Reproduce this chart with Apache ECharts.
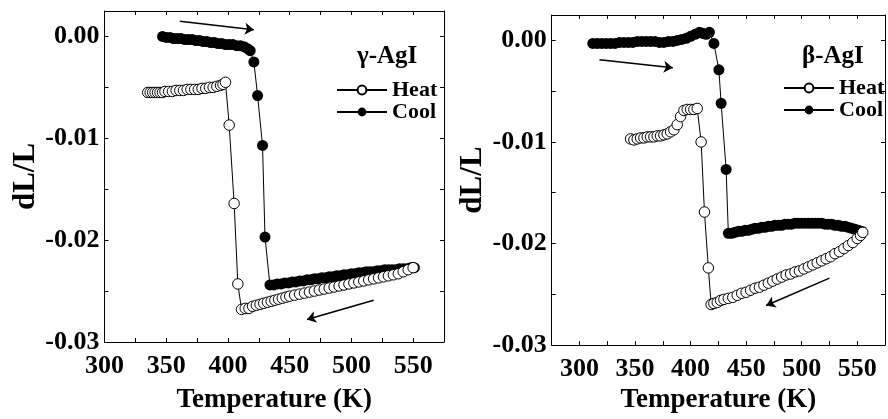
<!DOCTYPE html>
<html>
<head>
<meta charset="utf-8">
<script src="https://cdn.jsdelivr.net/npm/echarts@6.0.0/dist/echarts.min.js"></script>
<style>
  html, body { margin: 0; padding: 0; background: #fff; }
  #chart { width: 888px; height: 419px; }
</style>
</head>
<body>
<div id="chart"></div>
<script>
// gamma-AgI, heating (open circles)
const gHeatT = [335,337,339,341,343,345,347,349,352,355,358,361,364,367,370,373,376,379,382,385,388,391,394,396,398,
  401,405,408,
  411,414,417,420,423,426,429,432,435,438,441,444,447,450,
  454,458,462,466,470,474,478,482,486,490,494,498,502,506,510,514,518,522,526,530,534,538,542,546,550];
const gHeatV = [-0.0055,-0.0055,-0.0055,-0.0055,-0.0055,-0.0055,-0.0055,-0.0054,-0.0054,-0.0054,-0.0053,-0.0053,-0.0053,-0.0052,-0.0052,-0.0052,-0.0052,-0.0051,-0.0051,-0.0050,-0.0050,-0.0049,-0.0048,-0.0047,-0.0045,
  -0.0087,-0.0164,-0.0243,
  -0.0268,-0.0267,-0.0267,-0.0265,-0.0264,-0.0263,-0.0262,-0.0261,-0.0260,-0.0259,-0.0258,-0.0257,-0.0256,-0.0255,
  -0.0254,-0.0253,-0.0252,-0.0251,-0.0250,-0.0249,-0.0248,-0.0247,-0.0246,-0.0245,-0.0244,-0.0243,-0.0242,-0.0241,-0.0240,-0.0239,-0.0238,-0.0237,-0.0236,-0.0235,-0.0234,-0.0233,-0.0231,-0.0229,-0.0227];

// gamma-AgI, cooling (filled circles)
const gCoolT = [347,350,353,356,359,362,365,368,371,374,377,380,383,386,389,392,395,398,401,404,407,410,413,416,418,
  421,424,428,430,
  434,437,440,443,446,449,452,455,458,461,464,467,470,473,476,479,482,485,488,491,
  494,497,500,503,506,509,512,515,518,521,524,527,530,533,536,539,542,545,548,551];
const gCoolV = [0.0000,-0.0001,-0.0001,-0.0002,-0.0002,-0.0002,-0.0003,-0.0003,-0.0003,-0.0004,-0.0004,-0.0005,-0.0005,-0.0006,-0.0006,-0.0007,-0.0007,-0.0008,-0.0008,-0.0008,-0.0009,-0.0009,-0.0010,-0.0012,-0.0014,
  -0.0025,-0.0058,-0.0107,-0.0197,
  -0.0244,-0.0244,-0.0243,-0.0243,-0.0242,-0.0242,-0.0241,-0.0241,-0.0240,-0.0240,-0.0239,-0.0239,-0.0238,-0.0238,-0.0237,-0.0237,-0.0236,-0.0236,-0.0235,-0.0235,
  -0.0234,-0.0234,-0.0233,-0.0233,-0.0232,-0.0232,-0.0231,-0.0231,-0.0231,-0.0230,-0.0230,-0.0229,-0.0229,-0.0229,-0.0229,-0.0228,-0.0228,-0.0228,-0.0227,-0.0227];

// beta-AgI, heating
const bHeatT = [346,349,352,355,358,361,364,367,370,373,376,379,382,385,388,391,394,397,400,403,406,
  409.5,412.5,416,418.5,
  421,424,427,430,434,438,442,446,450,454,458,462,466,470,474,478,482,486,490,494,498,
  502,506,510,514,518,522,526,530,534,538,542,546,550,553,555];
const bHeatV = [-0.0097,-0.0098,-0.0097,-0.0096,-0.0096,-0.0095,-0.0095,-0.0095,-0.0094,-0.0094,-0.0093,-0.0092,-0.0090,-0.0088,-0.0083,-0.0075,-0.0069,-0.0068,-0.0068,-0.0068,-0.0067,
  -0.0100,-0.0169,-0.0224,-0.0260,
  -0.0259,-0.0258,-0.0256,-0.0255,-0.0254,-0.0253,-0.0251,-0.0249,-0.0248,-0.0246,-0.0244,-0.0243,-0.0241,-0.0239,-0.0237,-0.0235,-0.0233,-0.0231,-0.0230,-0.0228,-0.0227,
  -0.0225,-0.0223,-0.0221,-0.0219,-0.0217,-0.0215,-0.0213,-0.0210,-0.0208,-0.0205,-0.0202,-0.0199,-0.0195,-0.0192,-0.0189];

// beta-AgI, cooling
const bCoolT = [312,316,320,324,328,332,336,340,344,348,352,356,360,364,368,372,376,380,384,388,392,396,400,404,408,411,414,417,
  421,425.5,427.5,432,
  434,437,440,443,446,449,452,455,458,461,464,467,470,473,476,479,482,485,488,491,
  494,497,500,503,506,509,512,515,518,521,524,527,530,533,536,539,542,545,548,551,554];
const bCoolV = [-0.0003,-0.0003,-0.0003,-0.0003,-0.0003,-0.0003,-0.0002,-0.0002,-0.0002,-0.0002,-0.0001,-0.0001,-0.0001,-0.0001,-0.0001,-0.0002,-0.0002,-0.0001,-0.0001,0.0000,0.0001,0.0002,0.0004,0.0006,0.0008,0.0007,0.0006,0.0008,
  -0.0003,-0.0029,-0.0062,-0.0127,
  -0.0190,-0.0190,-0.0189,-0.0188,-0.0188,-0.0187,-0.0187,-0.0186,-0.0185,-0.0185,-0.0184,-0.0184,-0.0183,-0.0183,-0.0182,-0.0182,-0.0182,-0.0181,-0.0181,-0.0181,
  -0.0180,-0.0180,-0.0180,-0.0180,-0.0180,-0.0180,-0.0180,-0.0180,-0.0180,-0.0181,-0.0181,-0.0181,-0.0182,-0.0182,-0.0183,-0.0183,-0.0184,-0.0185,-0.0186,-0.0187,-0.0188];

// direction arrows [start T, start dL/L, end T, end dL/L]
const gArrows = [[361, 0.0015, 421, 0.00065], [518, -0.0259, 464, -0.0278]];
const bArrows = [[318, -0.0019, 384, -0.0027], [525, -0.0234, 468, -0.0261]];

const seriesNames = ['Heat', 'Cool'];
const panelTitles = ['γ-AgI', 'β-AgI'];

const FONT = "'Liberation Serif', 'Times New Roman', serif";

function zip(t, v) {
  if (t.length !== v.length) console.warn('length mismatch', t.length, v.length);
  return t.map((x, i) => [x, v[i]]);
}

function arrowLines(list) {
  return list.map(a => [{ coord: [a[0], a[1]] }, { coord: [a[2], a[3]] }]);
}

function xLabel(v) {
  return v % 50 === 0 ? String(v) : '';
}
function yLabel(v) {
  const r = Math.round(v * 100);
  if (Math.abs(v * 100 - r) > 1e-6) return '';
  return (r / 100).toFixed(2);
}

function xAxisOf(grid, min, pos, gap) {
  const bottom = pos === 'bottom';
  return {
    gridIndex: grid, type: 'value', position: pos,
    min: min, max: 575, interval: 25,
    axisLine: { show: true, onZero: false, lineStyle: { color: '#000', width: 1 } },
    axisTick: { show: true, inside: true, length: 4, lineStyle: { color: '#000', width: 1 } },
    splitLine: { show: false },
    axisLabel: {
      show: bottom, formatter: xLabel, margin: 11,
      fontFamily: FONT, fontWeight: 'bold', fontSize: 26, color: '#000'
    },
    name: bottom ? 'Temperature (K)' : '',
    nameLocation: 'middle', nameGap: gap,
    nameTextStyle: { fontFamily: FONT, fontWeight: 'bold', fontSize: 27, color: '#000' }
  };
}

function yAxisOf(grid, pos) {
  const left = pos === 'left';
  return {
    gridIndex: grid, type: 'value', position: pos,
    min: -0.03, max: 0.0025, interval: 0.005,
    axisLine: { show: true, onZero: false, lineStyle: { color: '#000', width: 1 } },
    axisTick: { show: true, inside: true, length: 4, lineStyle: { color: '#000', width: 1 } },
    splitLine: { show: false },
    axisLabel: {
      show: left, formatter: yLabel, margin: 5,
      fontFamily: FONT, fontWeight: 'bold', fontSize: 26, color: '#000'
    },
    name: left ? 'dL/L' : '',
    nameLocation: 'middle', nameGap: 63,
    nameTextStyle: { fontFamily: FONT, fontWeight: 'bold', fontSize: 31, color: '#000' }
  };
}

function heatSeries(xi, data, arrows) {
  return {
    name: seriesNames[0], type: 'line', xAxisIndex: xi, yAxisIndex: xi,
    data: data, symbol: 'circle', symbolSize: 10.5, showSymbol: true,
    lineStyle: { color: '#000', width: 1 },
    itemStyle: { color: '#fff', borderColor: '#000', borderWidth: 1 },
    z: 3,
    markLine: {
      silent: true, symbol: ['none', 'arrow'], symbolSize: 9,
      lineStyle: { color: '#000', width: 1.5, type: 'solid' },
      label: { show: false },
      emphasis: { disabled: true },
      data: arrowLines(arrows)
    }
  };
}

function coolSeries(xi, data) {
  return {
    name: seriesNames[1], type: 'line', xAxisIndex: xi, yAxisIndex: xi,
    data: data, symbol: 'circle', symbolSize: 11, showSymbol: true,
    lineStyle: { color: '#000', width: 1 },
    itemStyle: { color: '#000', borderColor: '#000', borderWidth: 0 },
    z: 2
  };
}

function legendOf(left, top, w) {
  return {
    data: seriesNames, orient: 'vertical', left: left, top: top,
    itemWidth: w, itemHeight: 11, itemGap: 0, padding: 0,
    selectedMode: false,
    textStyle: { fontFamily: FONT, fontWeight: 'bold', fontSize: 22, color: '#000' }
  };
}

const chart = echarts.init(document.getElementById('chart'));
const option = {
  animation: false,
  backgroundColor: '#fff',
  title: [
    { text: panelTitles[0], left: 357, top: 44, padding: 0,
      textStyle: { fontFamily: FONT, fontWeight: 'bold', fontSize: 25, color: '#000' } },
    { text: panelTitles[1], left: 802, top: 44, padding: 0,
      textStyle: { fontFamily: FONT, fontWeight: 'bold', fontSize: 25, color: '#000' } }
  ],
  legend: [legendOf(336, 79, 50), legendOf(783, 77, 50)],
  grid: [
    { left: 104.5, top: 11, width: 339.5, height: 336.3, containLabel: false },
    { left: 551.7, top: 15, width: 340.2, height: 336.7, containLabel: false }
  ],
  xAxis: [
    xAxisOf(0, 300, 'bottom', 45), xAxisOf(0, 300, 'top', 45),
    xAxisOf(1, 275, 'bottom', 39), xAxisOf(1, 275, 'top', 39)
  ],
  yAxis: [
    yAxisOf(0, 'left'), yAxisOf(0, 'right'),
    yAxisOf(1, 'left'), yAxisOf(1, 'right')
  ],
  series: [
    coolSeries(0, zip(gCoolT, gCoolV)),
    heatSeries(0, zip(gHeatT, gHeatV), gArrows),
    coolSeries(2, zip(bCoolT, bCoolV)),
    heatSeries(2, zip(bHeatT, bHeatV), bArrows)
  ]
};
chart.setOption(option);
window.addEventListener('resize', function () {
  chart.resize();
});
</script>
</body>
</html>
